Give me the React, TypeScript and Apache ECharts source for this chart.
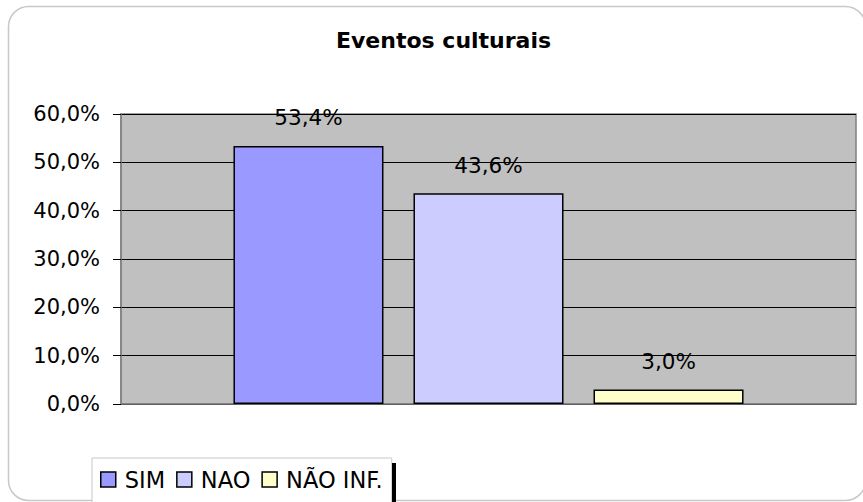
import React, { useEffect, useRef } from "react";
import * as echarts from "echarts";

const title = "Eventos culturais";
const seriesNames = ["SIM", "NAO", "NÃO INF."];
const seriesValues = [53.4, 43.6, 3.0];
const seriesColors = ["#9999FF", "#CCCCFF", "#FFFFCC"];
const yTicks = { min: 0, max: 60, interval: 10 };

const fmt = (v: number) => v.toFixed(1).replace(".", ",") + "%";
const FONT = "DejaVu Sans";

export default function App() {
  const ref = useRef<HTMLDivElement>(null);
  useEffect(() => {
    if (!ref.current) return;
    const chart = echarts.init(ref.current, undefined, { renderer: "svg" });
    chart.setOption({
      animation: false,
      backgroundColor: "#ffffff",
      title: {
        text: title,
        left: 331,
        top: 24,
        textStyle: { fontFamily: FONT, fontSize: 22, fontWeight: "bold", color: "#000" },
      },
      grid: {
        left: 121,
        right: 7,
        top: 114,
        bottom: 98,
        show: true,
        backgroundColor: "#C0C0C0",
        borderColor: "#808080",
        borderWidth: 1.5,
      },
      legend: {
        data: seriesNames,
        left: 92,
        top: 458,
        orient: "horizontal",
        icon: "rect",
        itemWidth: 15,
        itemHeight: 15,
        itemGap: 11,
        padding: [10, 9, 30, 8],
        backgroundColor: "#ffffff",
        borderColor: "#C8C8C8",
        borderWidth: 1,
        itemStyle: { borderColor: "#000", borderWidth: 1.5 },
        textStyle: { fontFamily: FONT, fontSize: 22.5, color: "#000", padding: [0, 0, 0, 4] },
      },
      xAxis: {
        type: "category",
        data: [""],
        axisLine: { show: true, lineStyle: { color: "#808080", width: 1.5 } },
        axisTick: { show: false },
        axisLabel: { show: false },
      },
      yAxis: {
        type: "value",
        min: yTicks.min,
        max: yTicks.max,
        interval: yTicks.interval,
        axisLine: { show: true, lineStyle: { color: "#808080", width: 1.5 } },
        axisTick: { show: true, length: 8, lineStyle: { color: "#000", width: 1 } },
        axisLabel: {
          margin: 21,
          formatter: (v: number) => fmt(v),
          fontFamily: FONT,
          fontSize: 21,
          color: "#000",
        },
        splitLine: { show: true, lineStyle: { color: "#000", width: 1 } },
      },
      series: seriesNames.map((name, i) => ({
        name,
        type: "bar",
        data: [seriesValues[i]],
        barGap: "20%",
        barCategoryGap: "30.6%",
        itemStyle: { color: seriesColors[i], borderColor: "#000", borderWidth: 1.5 },
        label: {
          show: true,
          position: "top",
          distance: 17,
          formatter: (p: any) => fmt(p.value),
          fontFamily: FONT,
          fontSize: 21.5,
          color: "#000",
        },
      })),
      graphic: [
        {
          type: "rect",
          z: -10,
          silent: true,
          shape: { x: 8.5, y: 6.5, width: 857, height: 494, r: 20 },
          style: { fill: "none", stroke: "#C8C8C8", lineWidth: 1.5 },
        },
        {
          type: "rect",
          z: 100,
          silent: true,
          shape: { x: 392, y: 463, width: 4, height: 40 },
          style: { fill: "#000" },
        },
      ],
    });
    return () => chart.dispose();
  }, []);
  return (
    <div
      ref={ref}
      style={{ position: "absolute", left: 0, top: 0, width: 863, height: 502 }}
    />
  );
}
